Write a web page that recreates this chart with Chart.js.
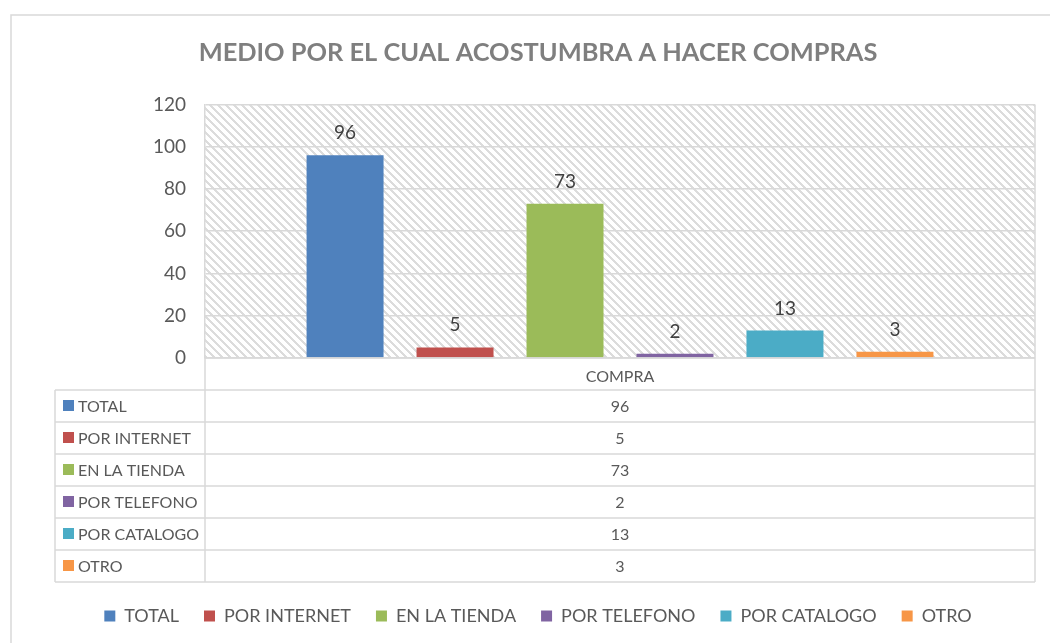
<!DOCTYPE html>
<html>
<head>
<meta charset="utf-8">
<script src="https://cdn.jsdelivr.net/npm/chart.js@4/dist/chart.umd.min.js"></script>
<style>
    html, body { margin: 0; padding: 0; background: #fff; }
    #wrapper-chart { width: 1050px; height: 643px; }
</style>
</head>
<body>
<div id="wrapper-chart"><canvas id="chart-compras"></canvas></div>
<script>
const titleText = 'MEDIO POR EL CUAL ACOSTUMBRA A HACER COMPRAS'
const categories = ['COMPRA']
const seriesNames = ['TOTAL', 'POR INTERNET', 'EN LA TIENDA', 'POR TELEFONO', 'POR CATALOGO', 'OTRO']
const seriesValues = [96, 5, 73, 2, 13, 3]
const seriesColors = ['#4F81BD', '#C0504D', '#9BBB59', '#8064A2', '#4BACC6', '#F79646']
const yMin = 0
const yMax = 120
const yStep = 20

const lineColor = '#d9d9d9'
const textColor = '#595959'
const fontFamily = 'Lato, "Open Sans", sans-serif'

// downward diagonal hatch for the plot area, like the Excel pattern fill
function makeHatch(ctx) {
    const c = document.createElement('canvas')
    c.width = 8
    c.height = 8
    const p = c.getContext('2d')
    p.fillStyle = '#fff'
    p.fillRect(0, 0, 8, 8)
    p.fillStyle = '#dcdcdc'
    for (let y = 0; y < 8; y++) {
        for (let x = 0; x < 8; x++) {
            const d = (((x - y) % 8) + 8) % 8
            if (d < 3) p.fillRect(x, y, 1, 1)
        }
    }
    return ctx.createPattern(c, 'repeat')
}

const rowHeight = 32
const tableLeft = 55

const excelLook = {
    id: 'excelLook',
    beforeDraw(chart) {
        const { ctx, chartArea: a } = chart
        ctx.save()
        // outer chart frame
        ctx.strokeStyle = lineColor
        ctx.lineWidth = 1.5
        ctx.strokeRect(11, 15, 1200, 800)
        // hatched plot area
        ctx.fillStyle = makeHatch(ctx)
        ctx.fillRect(a.left, a.top, a.right - a.left, a.bottom - a.top)
        ctx.restore()
    },
    afterDatasetsDraw(chart) {
        const { ctx } = chart
        ctx.save()
        ctx.font = '19px ' + fontFamily
        ctx.fillStyle = '#404040'
        ctx.textAlign = 'center'
        ctx.textBaseline = 'alphabetic'
        chart.data.datasets.forEach((ds, i) => {
            const bar = chart.getDatasetMeta(i).data[0]
            ctx.fillText(String(ds.data[0]), bar.x, bar.y - 16)
        })
        ctx.restore()
    },
    afterDraw(chart) {
        const { ctx, chartArea: a } = chart
        const n = chart.data.datasets.length
        const tableTop = a.bottom + rowHeight
        const tableBottom = tableTop + n * rowHeight
        ctx.save()
        ctx.strokeStyle = lineColor
        ctx.lineWidth = 1.5
        ctx.beginPath()
        // right border of plot + table
        ctx.moveTo(a.right, a.top)
        ctx.lineTo(a.right, tableBottom)
        // left border continues down through category row and table
        ctx.moveTo(a.left, a.bottom)
        ctx.lineTo(a.left, tableBottom)
        // category row bottom line / table rows
        ctx.moveTo(a.left, a.bottom)
        ctx.lineTo(a.right, a.bottom)
        for (let r = 0; r <= n; r++) {
            const y = tableTop + r * rowHeight
            ctx.moveTo(tableLeft, y)
            ctx.lineTo(a.right, y)
        }
        ctx.moveTo(tableLeft, tableTop)
        ctx.lineTo(tableLeft, tableBottom)
        ctx.stroke()

        // table contents: legend key + series name + value
        ctx.font = '16px ' + fontFamily
        ctx.fillStyle = textColor
        ctx.textBaseline = 'middle'
        const xMid = chart.scales.x.getPixelForValue(0)
        chart.data.datasets.forEach((ds, i) => {
            const yc = tableTop + i * rowHeight + rowHeight / 2
            ctx.fillStyle = ds.backgroundColor
            ctx.fillRect(63, yc - 6, 11, 11)
            ctx.fillStyle = textColor
            ctx.textAlign = 'left'
            ctx.fillText(ds.label, 78, yc + 1)
            ctx.textAlign = 'center'
            ctx.fillText(String(ds.data[0]), xMid, yc + 1)
        })
        ctx.restore()
    },
}

const datasets = seriesNames.map((name, i) => ({
    label: name,
    data: [seriesValues[i]],
    backgroundColor: seriesColors[i],
    borderWidth: 0,
    barPercentage: 0.7,
    categoryPercentage: 0.795,
}))

const ctx = document.getElementById('chart-compras').getContext('2d')
const myChart = new Chart(ctx, {
    type: 'bar',
    data: {
        labels: categories,
        datasets: datasets,
    },
    options: {
        responsive: true,
        maintainAspectRatio: false,
        animation: false,
        layout: {
            padding: { left: 41, right: 15, top: 2, bottom: 8 },
        },
        plugins: {
            title: {
                display: true,
                text: titleText,
                color: '#7f7f7f',
                font: { family: fontFamily, size: 25.4, weight: 'bold' },
                padding: { top: 36, bottom: 36 },
            },
            legend: {
                position: 'bottom',
                labels: {
                    boxWidth: 11,
                    boxHeight: 11,
                    padding: 25,
                    color: textColor,
                    font: { family: fontFamily, size: 18 },
                },
            },
            tooltip: { enabled: false },
        },
        scales: {
            x: {
                grid: { display: false },
                border: { display: false },
                ticks: {
                    color: textColor,
                    font: { family: fontFamily, size: 16 },
                    padding: 1,
                },
                afterFit: (scale) => {
                    scale.height = 224
                },
            },
            y: {
                min: yMin,
                max: yMax,
                ticks: {
                    stepSize: yStep,
                    color: textColor,
                    font: { family: fontFamily, size: 19 },
                    padding: 19,
                },
                grid: { color: lineColor, lineWidth: 1.5, drawTicks: false },
                border: { display: true, color: lineColor, width: 1.5 },
                afterFit: (scale) => {
                    scale.width = 164
                },
            },
        },
    },
    plugins: [excelLook],
})
</script>
</body>
</html>
